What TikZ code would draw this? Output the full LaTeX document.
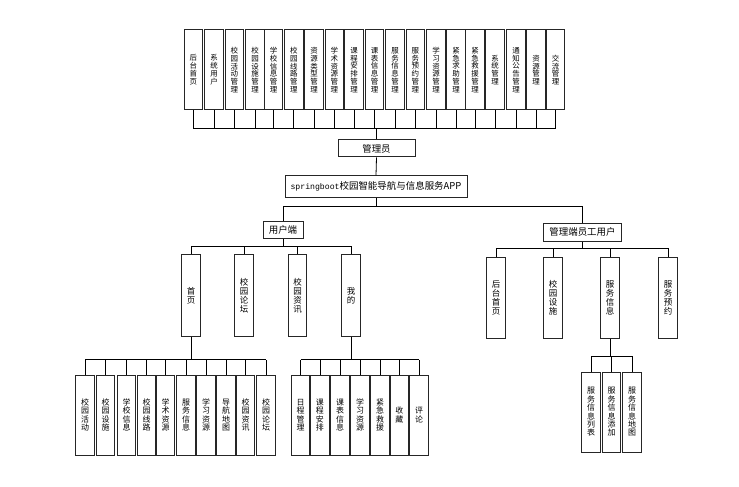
\documentclass[tikz,border=0pt]{standalone}
\usepackage{fontspec}
\newfontfamily\cjk{Noto Sans CJK SC}
\newfontfamily\monolat{Liberation Mono}
\begin{document}
\begin{tikzpicture}[x=1bp,y=-1bp,
  ln/.style={line width=0.8bp, draw=black},
  hbox/.style={draw=black!85, line width=1bp, inner sep=0pt, minimum height=17bp, font=\cjk\fontsize{9.5}{10}\selectfont},
  vtop/.style={draw=black!85, line width=1bp, inner sep=0pt, minimum width=18.5bp, minimum height=80bp, align=center, font=\cjk\fontsize{7.5}{7.9}\selectfont},
  vmid/.style={vtop, minimum height=81bp, font=\cjk\fontsize{8.5}{9}\selectfont},
  vlow/.style={vtop, font=\cjk\fontsize{8}{8.4}\selectfont}]
\useasboundingbox[fill=white] (0,0) rectangle (739,487);

% top row
\node[vtop] (t1) at (193.3,70) {后\\台\\首\\页};
\node[vtop] (t2) at (214,70) {系\\统\\用\\户};
\node[vtop] (t3) at (234.3,70) {校\\园\\活\\动\\管\\理};
\node[vtop] (t4) at (255,70) {校\\园\\设\\施\\管\\理};
\node[vtop] (t5) at (273.6,70) {学\\校\\信\\息\\管\\理};
\node[vtop] (t6) at (293.8,70) {校\\园\\线\\路\\管\\理};
\node[vtop] (t7) at (314,70) {资\\源\\类\\型\\管\\理};
\node[vtop] (t8) at (334.3,70) {学\\术\\资\\源\\管\\理};
\node[vtop] (t9) at (354,70) {课\\程\\安\\排\\管\\理};
\node[vtop] (t10) at (374.5,70) {课\\表\\信\\息\\管\\理};
\node[vtop] (t11) at (395,70) {服\\务\\信\\息\\管\\理};
\node[vtop] (t12) at (415.3,70) {服\\务\\预\\约\\管\\理};
\node[vtop] (t13) at (436,70) {学\\习\\资\\源\\管\\理};
\node[vtop] (t14) at (456,70) {紧\\急\\求\\助\\管\\理};
\node[vtop] (t15) at (475,70) {紧\\急\\救\\援\\管\\理};
\node[vtop] (t16) at (495,70) {系\\统\\管\\理};
\node[vtop] (t17) at (516,70) {通\\知\\公\\告\\管\\理};
\node[vtop] (t18) at (536,70) {资\\源\\管\\理};
\node[vtop] (t19) at (555.5,70) {交\\流\\管\\理};

% centre column
\node[hbox, minimum width=77bp] (gly) at (376.5,148.5) {管理员};
\node[hbox, minimum width=182bp, minimum height=21.5bp] (main) at (376,186.5) {{\monolat\fontsize{8.2}{10}\selectfont springboot}校园智能导航与信息服务APP};
\node[hbox, minimum width=40bp] (yhd) at (283,229.6) {用户端};
\node[hbox, minimum width=78.4bp, minimum height=17.7bp] (glu) at (582.5,232.2) {管理端员工用户};

% user side level 2
\node[vmid] (u1) at (191,295.5) {首\\页};
\node[vmid] (u2) at (244,295.5) {校\\园\\论\\坛};
\node[vmid] (u3) at (297.5,295.5) {校\\园\\资\\讯};
\node[vmid] (u4) at (351,295.5) {我\\的};

% admin side level 2
\node[vmid, minimum height=80bp] (a1) at (496,298) {后\\台\\首\\页};
\node[vmid, minimum height=80bp] (a2) at (553,298) {校\\园\\设\\施};
\node[vmid, minimum height=80bp] (a3) at (610,298) {服\\务\\信\\息};
\node[vmid, minimum height=80bp] (a4) at (668,298) {服\\务\\预\\约};

% 首页 children
\node[vlow] (h1) at (85,415) {校\\园\\活\\动};
\node[vlow] (h2) at (105.5,415) {校\\园\\设\\施};
\node[vlow] (h3) at (126.5,415) {学\\校\\信\\息};
\node[vlow] (h4) at (146.7,415) {校\\园\\线\\路};
\node[vlow] (h5) at (165.7,415) {学\\术\\资\\源};
\node[vlow] (h6) at (186,415) {服\\务\\信\\息};
\node[vlow] (h7) at (206,415) {学\\习\\资\\源};
\node[vlow] (h8) at (226,415) {导\\航\\地\\图};
\node[vlow] (h9) at (245.5,415) {校\\园\\资\\讯};
\node[vlow] (h10) at (266,415) {校\\园\\论\\坛};

% 我的 children
\node[vlow] (w1) at (300.5,415) {日\\程\\管\\理};
\node[vlow] (w2) at (319.9,415) {课\\程\\安\\排};
\node[vlow] (w3) at (340,415) {课\\表\\信\\息};
\node[vlow] (w4) at (360,415) {学\\习\\资\\源};
\node[vlow] (w5) at (380,415) {紧\\急\\救\\援};
\node[vlow] (w6) at (399.3,415) {收\\藏};
\node[vlow] (w7) at (419.2,415) {评\\论};

% 服务信息 children
\node[vlow] (s1) at (591,412) {服\\务\\信\\息\\列\\表};
\node[vlow] (s2) at (611.5,412) {服\\务\\信\\息\\添\\加};
\node[vlow] (s3) at (632,412) {服\\务\\信\\息\\地\\图};

% bar coordinates
\coordinate (topbar) at (376.5,128);
\coordinate (split) at (376,206);
\coordinate (ubar) at (283,246);
\coordinate (abar) at (582.5,248.3);
\coordinate (hbar) at (191,359.5);
\coordinate (wbar) at (351,359.5);
\coordinate (sbar) at (610,356);

% top connectors
\foreach \i in {1,...,19} { \draw[ln] (t\i.south) -- (t\i.south |- topbar); }
\draw[ln] (t1.south |- topbar) -- (t19.south |- topbar);
\draw[ln] (gly.north) -- (gly.north |- topbar);
\draw[ln] (gly.south) -- (main.north);

% split
\draw[ln] (main.south) -- (main.south |- split);
\draw[ln] (yhd.north) -- (yhd.north |- split) -- (glu.north |- split) -- (glu.north);

% user level 2
\draw[ln] (yhd.south) -- (yhd.south |- ubar);
\foreach \i in {1,...,4} { \draw[ln] (u\i.north) -- (u\i.north |- ubar); }
\draw[ln] (u1.north |- ubar) -- (u4.north |- ubar);

% admin level 2
\draw[ln] (glu.south) -- (glu.south |- abar);
\foreach \i in {1,...,4} { \draw[ln] (a\i.north) -- (a\i.north |- abar); }
\draw[ln] (a1.north |- abar) -- (a4.north |- abar);

% 首页 children
\draw[ln] (u1.south) -- (u1.south |- hbar);
\foreach \i in {1,...,10} { \draw[ln] (h\i.north) -- (h\i.north |- hbar); }
\draw[ln] (h1.north |- hbar) -- (h10.north |- hbar);

% 我的 children
\draw[ln] (u4.south) -- (u4.south |- wbar);
\foreach \i in {1,...,7} { \draw[ln] (w\i.north) -- (w\i.north |- wbar); }
\draw[ln] (w1.north |- wbar) -- (w7.north |- wbar);

% 服务信息 children
\draw[ln] (a3.south) -- (a3.south |- sbar);
\foreach \i in {1,...,3} { \draw[ln] (s\i.north) -- (s\i.north |- sbar); }
\draw[ln] (s1.north |- sbar) -- (s3.north |- sbar);
\end{tikzpicture}
\end{document}
